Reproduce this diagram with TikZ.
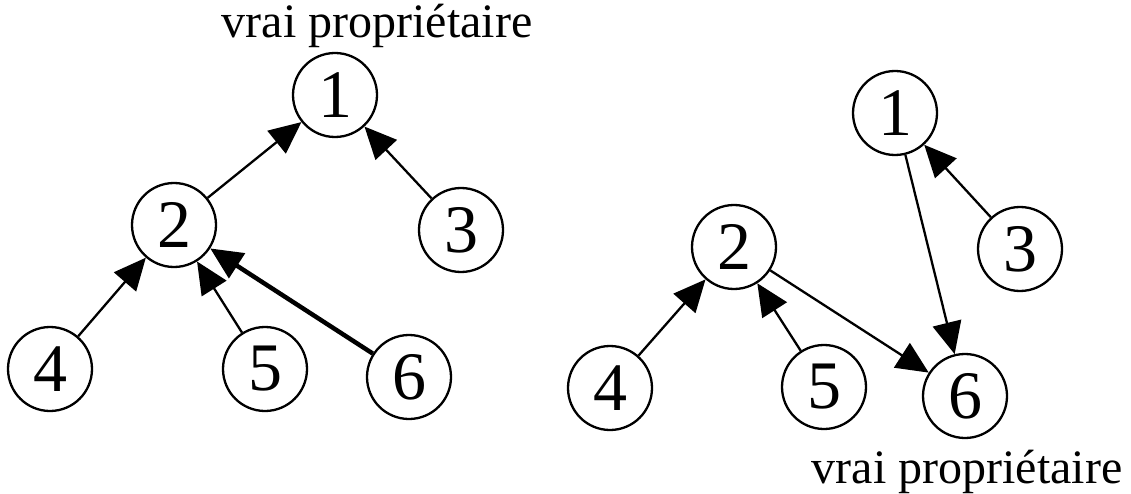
\documentclass[tikz,border=0pt]{standalone}
\usepackage{fontspec}
\setmainfont{Liberation Serif}
\usetikzlibrary{arrows.meta}
\tikzset{
  vnode/.style={circle, draw, line width=2.3pt, minimum size=84pt, inner sep=0pt,
    font=\fontsize{68}{68}\selectfont},
  edge/.style={line width=2.3pt, -{Triangle[length=32pt,width=29pt]}},
  thickedge/.style={line width=4.5pt, -{Triangle[length=32pt,width=29pt]}},
  lbl/.style={font=\fontsize{48}{48}\selectfont, inner sep=0pt, anchor=base}
}
\begin{document}
\begin{tikzpicture}[x=1pt,y=-1pt]
\useasboundingbox (0,0) rectangle (1131,494);
% left
\node[vnode] (a1) at (335,95) {1};
\node[vnode] (a2) at (174,225) {2};
\node[vnode] (a3) at (461,230) {3};
\node[vnode] (a4) at (50,369) {4};
\node[vnode] (a5) at (265,369) {5};
\node[vnode] (a6) at (409,377) {6};
\node[lbl] (la) at (377,38) {vrai propriétaire};
\draw[edge] (a2) -- (a1);
\draw[edge] (a3) -- (a1);
\draw[edge] (a4) -- (a2);
\draw[edge] (a5) -- (a2);
\draw[thickedge] (a6) -- (a2);
% right
\node[vnode] (b1) at (895,113) {1};
\node[vnode] (b2) at (734,247) {2};
\node[vnode] (b3) at (1020,249) {3};
\node[vnode] (b4) at (610,388) {4};
\node[vnode] (b5) at (824,387) {5};
\node[vnode] (b6) at (965,396) {6};
\node[lbl] (lb) at (967,483) {vrai propriétaire};
\draw[edge] (b3) -- (b1);
\draw[edge] (b4) -- (b2);
\draw[edge] (b5) -- (b2);
\draw[edge] (b2) -- (b6);
\draw[edge] (b1) -- (b6);
\end{tikzpicture}
\end{document}
